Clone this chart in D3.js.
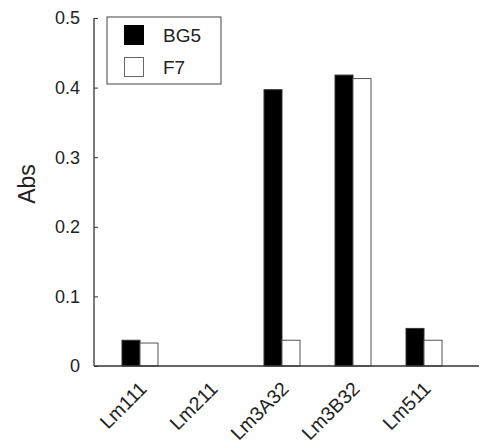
<!DOCTYPE html>
<html>
<head>
<meta charset="utf-8">
<script src="https://cdn.jsdelivr.net/npm/d3@7"></script>
<style>
  body { margin: 0; background: #fff; }
  svg { display: block; }
  text { font-family: "Liberation Sans", Arial, sans-serif; fill: #222; }
</style>
</head>
<body>
<div id="chart"></div>
<script>
// data
var categories = ['Lm111', 'Lm211', 'Lm3A32', 'Lm3B32', 'Lm511']
var seriesNames = ['BG5', 'F7']
var bg5 = [0.037, 0, 0.397, 0.418, 0.054]
var f7 = [0.033, 0, 0.037, 0.413, 0.037]
var yTicks = [0, 0.1, 0.2, 0.3, 0.4, 0.5]

var width = 485
var height = 448
var axisLeft = 94
var axisRight = 479

var svg = d3.select('#chart')
  .append('svg')
  .attr('width', width)
  .attr('height', height)

var y = d3.scaleLinear()
  .domain([0, 0.5])
  .range([366, 18])

var x = d3.scaleBand()
  .domain(categories)
  .range([104.5, 459.5])
  .paddingInner(0)
  .paddingOuter(0)

var barW = 18

// y axis, ticks point inward
var yAxis = svg.append('g')
  .attr('transform', 'translate(' + axisLeft + ',0)')
  .call(d3.axisRight(y).tickValues(yTicks).tickSize(4).tickFormat(''))
yAxis.select('.domain').remove()
yAxis.selectAll('line').attr('stroke', '#333')

svg.append('line')
  .attr('x1', axisLeft).attr('x2', axisLeft)
  .attr('y1', y(0.5)).attr('y2', y(0))
  .attr('stroke', '#333').attr('stroke-width', 1.3)

svg.selectAll('.ylab')
  .data(yTicks)
  .enter()
  .append('text')
  .attr('class', 'ylab')
  .attr('x', axisLeft - 14)
  .attr('y', d => y(d))
  .attr('dy', '0.35em')
  .attr('text-anchor', 'end')
  .style('font-size', '18px')
  .text(d => d === 0 ? '0' : d3.format('.1f')(d))

svg.append('text')
  .attr('transform', 'translate(35,184) rotate(-90)')
  .attr('text-anchor', 'middle')
  .style('font-size', '23px')
  .text('Abs')

// bars
var groups = svg.append('g').selectAll('g')
  .data(categories)
  .enter()
  .append('g')
  .attr('transform', d => 'translate(' + (x(d) + x.bandwidth() / 2) + ',0)')

groups.append('rect')
  .attr('x', -barW)
  .attr('width', barW)
  .attr('y', (d, i) => y(bg5[i]))
  .attr('height', (d, i) => y(0) - y(bg5[i]))
  .attr('fill', '#000')
  .attr('stroke', '#333')
  .attr('stroke-width', 1)

groups.append('rect')
  .attr('x', 0)
  .attr('width', barW)
  .attr('y', (d, i) => y(f7[i]))
  .attr('height', (d, i) => y(0) - y(f7[i]))
  .attr('fill', '#fff')
  .attr('stroke', '#555')
  .attr('stroke-width', 1)
  .attr('display', (d, i) => f7[i] > 0 ? null : 'none')

groups.append('text')
  .attr('transform', 'translate(8,390) rotate(-45)')
  .attr('text-anchor', 'end')
  .style('font-size', '19.5px')
  .text(d => d)

// x axis line
svg.append('line')
  .attr('x1', axisLeft).attr('x2', axisRight)
  .attr('y1', y(0)).attr('y2', y(0))
  .attr('stroke', '#333').attr('stroke-width', 1.3)

// legend
var legend = svg.append('g').attr('transform', 'translate(107,17)')
legend.append('rect')
  .attr('width', 114).attr('height', 67)
  .attr('fill', '#fff').attr('stroke', '#444').attr('stroke-width', 1)

var legendFills = ['#000', '#fff']
var items = legend.selectAll('.item')
  .data(seriesNames)
  .enter()
  .append('g')
  .attr('class', 'item')
  .attr('transform', (d, i) => 'translate(0,' + (8 + i * 32) + ')')
items.append('rect')
  .attr('x', 17.5).attr('y', 0.5)
  .attr('width', 19).attr('height', 19)
  .attr('fill', (d, i) => legendFills[i])
  .attr('stroke', (d, i) => i ? '#666' : '#000')
items.append('text')
  .attr('x', 56)
  .attr('y', 10)
  .attr('dy', '0.35em')
  .style('font-size', '19px')
  .text(d => d)
</script>
</body>
</html>
